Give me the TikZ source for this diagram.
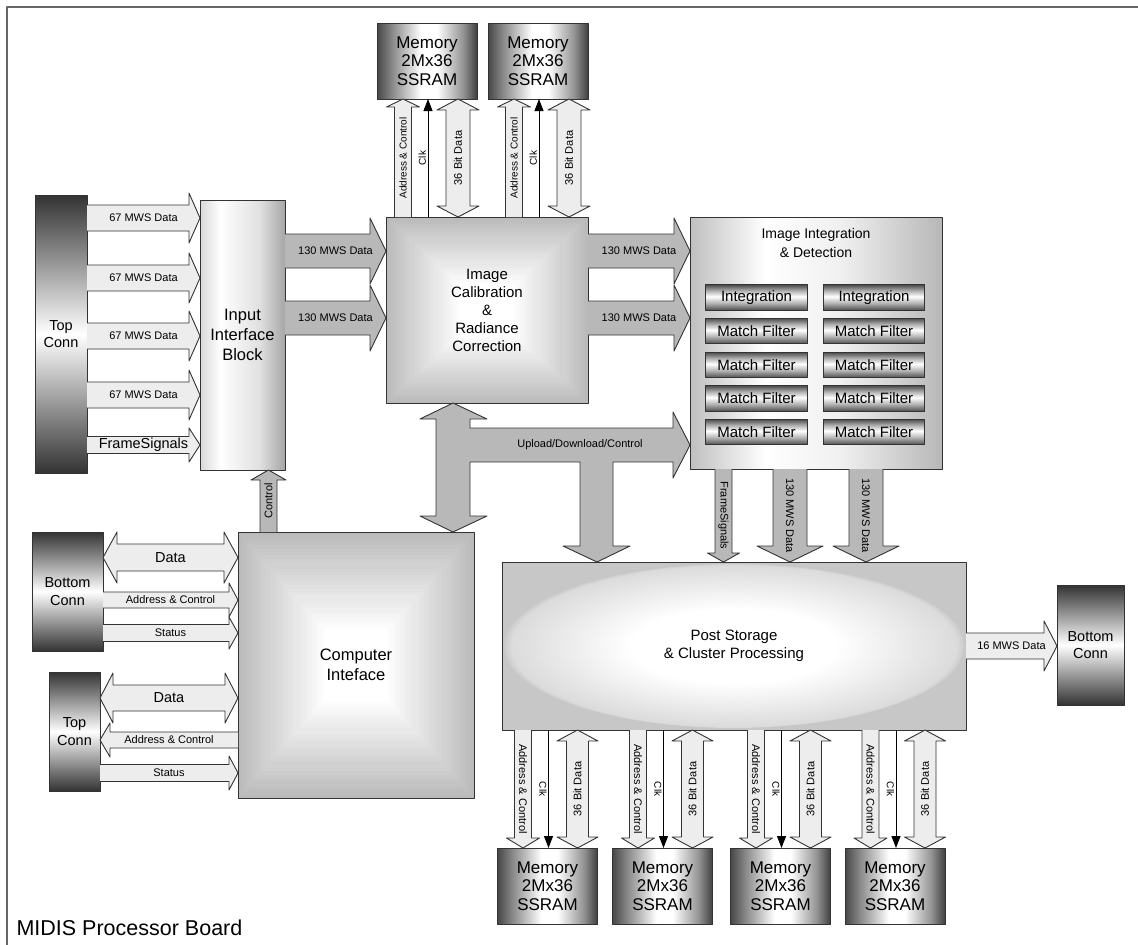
\documentclass[tikz,border=0pt]{standalone}
\usepackage{fontspec}
\setmainfont{Liberation Sans}
\usetikzlibrary{calc,arrows.meta}

\pgfdeclarehorizontalshading{memshade}{100bp}{color(0bp)=(black!72); color(25bp)=(black!72); color(32bp)=(black!48); color(47bp)=(white); color(55bp)=(white); color(68bp)=(black!42); color(75bp)=(black!75); color(100bp)=(black!75)}
\pgfdeclareverticalshading{connshade}{100bp}{color(0bp)=(black!80); color(25bp)=(black!80); color(36bp)=(black!45); color(50bp)=(white); color(64bp)=(black!45); color(75bp)=(black!80); color(100bp)=(black!80)}
\pgfdeclareverticalshading{filtershade}{100bp}{color(0bp)=(black!70); color(25bp)=(black!70); color(39bp)=(black!30); color(52bp)=(white); color(63bp)=(black!30); color(75bp)=(black!70); color(100bp)=(black!70)}
\pgfdeclarehorizontalshading{inshade}{100bp}{color(0bp)=(black!15); color(25bp)=(black!15); color(37bp)=(white); color(60bp)=(black!12); color(75bp)=(black!35); color(100bp)=(black!35)}
\pgfdeclarehorizontalshading{integshade}{100bp}{color(0bp)=(black!25); color(25bp)=(black!25); color(40bp)=(white); color(55bp)=(black!6); color(75bp)=(black!28); color(100bp)=(black!28)}
\pgfdeclareradialshading{postglow}{\pgfpoint{0bp}{0bp}}{color(0bp)=(white); color(11bp)=(white); color(24bp)=(black!14); color(25bp)=(black!22); color(50bp)=(black!22)}

\tikzset{bw/.store in=\bw, hw/.store in=\hw, hl/.store in=\hl, afill/.store in=\afill,
  bw=8, hw=16, hl=10, afill=white}

\newcommand\blockarr[4][]{%
  \begin{scope}[#1]
  \path (#2) coordinate (ba) (#3) coordinate (bb) ($(bb)!\hl pt!(ba)$) coordinate (bc);
  \draw[arrowline, fill=\afill] ($(ba)!\bw pt!90:(bb)$) -- ($(bc)!\bw pt!90:(bb)$) -- ($(bc)!\hw pt!90:(bb)$) -- (bb)
    -- ($(bc)!\hw pt!-90:(bb)$) -- ($(bc)!\bw pt!-90:(bb)$) -- ($(ba)!\bw pt!-90:(bb)$);
  \path (ba) -- (bb) node[midway, sloped, alabel] {#4};
  \end{scope}}

\newcommand\dblockarr[4][]{%
  \begin{scope}[#1]
  \path (#2) coordinate (ba) (#3) coordinate (bb) ($(ba)!\hl pt!(bb)$) coordinate (bc) ($(bb)!\hl pt!(ba)$) coordinate (bd);
  \draw[arrowline, fill=\afill] (ba) -- ($(bc)!\hw pt!90:(bb)$) -- ($(bc)!\bw pt!90:(bb)$) -- ($(bd)!\bw pt!90:(bb)$)
    -- ($(bd)!\hw pt!90:(bb)$) -- (bb) -- ($(bd)!\hw pt!-90:(bb)$) -- ($(bd)!\bw pt!-90:(bb)$)
    -- ($(bc)!\bw pt!-90:(bb)$) -- ($(bc)!\hw pt!-90:(bb)$) -- cycle;
  \path (ba) -- (bb) node[midway, sloped, alabel] {#4};
  \end{scope}}

\begin{document}
\begin{tikzpicture}[x=1pt, y=-1pt, line join=round, >={Triangle[length=12pt,width=9pt]},
  box/.style={draw=black!80, line width=1pt, inner sep=0pt, outer sep=0pt, align=center},
  mem/.style={box, shade, shading=memshade, minimum width=100pt, minimum height=76pt, font=\fontsize{17}{18.5}\selectfont},
  conn/.style={box, shade, shading=connshade, font=\fontsize{14.5}{17.5}\selectfont},
  filter/.style={box, shade, shading=filtershade, minimum width=101.5pt, minimum height=25.5pt, font=\fontsize{15}{17}\selectfont},
  sqglow/.style={path picture={\foreach \i in {0,...,36}{\pgfmathtruncatemacro\shadeval{max(0,27-0.9*\i)}
    \fill[black!\shadeval] ($(path picture bounding box.south west)!\i/80!(path picture bounding box.north east)$) rectangle
      ($(path picture bounding box.north east)!\i/80!(path picture bounding box.south west)$);}}},
  post/.style={box, fill=black!22, path picture={\shade[shading=postglow] (path picture bounding box.center) ellipse [x radius=230pt, y radius=82pt];}},
  alabel/.style={font=\fontsize{11}{13}\selectfont, inner sep=0pt},
  vtext/.style={alabel/.style={font=\fontsize{10}{12}\selectfont, inner sep=0pt}},
  arrowline/.style={draw=black!80, line width=0.9pt},
  bigbus/.style={bw=17, hw=33, hl=16, afill=black!28},
  midbus/.style={bw=13, hw=25, hl=11, afill=black!7},
  smallbus/.style={bw=8.5, hw=16.5, hl=9, afill=black!7},
  clk/.style={midway, sloped, inner sep=1.5pt, font=\fontsize{10}{12}\selectfont}]
\useasboundingbox (0,0) rectangle (1138,945);
\draw[black!60, line width=1.5pt] (7,945) -- (7,7) -- (1138,7);

\node[conn, minimum width=52pt, minimum height=278pt] (topconn) at (61,334) {Top\\Conn};
\node[box, shade, shading=inshade, minimum width=85pt, minimum height=270pt, font=\fontsize{16.5}{20}\selectfont] (inblock) at (242.5,335) {Input\\Interface\\Block};
\node[box, sqglow, minimum width=202pt, minimum height=186pt, font=\fontsize{15}{18}\selectfont] (calib) at (487,310) {Image\\Calibration\\\&\\Radiance\\Correction};
\node[box, shade, shading=integshade, minimum width=252pt, minimum height=252pt] (integ) at (816,343) {};
\node[font=\fontsize{14}{19}\selectfont, align=center] (integtitle) at (816,242.5) {Image Integration\\\& Detection};
\node[mem] (mem1t) at (427,61) {Memory\\2Mx36\\SSRAM};
\node[mem] (mem2t) at (538,61) {Memory\\2Mx36\\SSRAM};
\node[conn, minimum width=71pt, minimum height=119pt] (botconn1) at (67.5,591.5) {Bottom\\Conn};
\node[box, sqglow, minimum width=236pt, minimum height=266pt, font=\fontsize{16.5}{20}\selectfont] (comp) at (356,665) {Computer\\Inteface};
\node[conn, minimum width=51pt, minimum height=119pt] (topconn2) at (74.5,731.5) {Top\\Conn};
\node[post, minimum width=464pt, minimum height=168pt, font=\fontsize{15}{18}\selectfont] (post) at (734,646) {Post Storage\\\& Cluster Processing};
\node[conn, minimum width=67pt, minimum height=120pt] (botconn2) at (1090.5,645) {Bottom\\Conn};
\foreach \x [count=\i] in {547.5,662.5,780.5,895}
  \node[mem] (memb\i) at (\x,886) {Memory\\2Mx36\\SSRAM};
\foreach \y/\t [count=\r] in {297.5/Integration, 331/Match Filter, 365/Match Filter, 398.5/Match Filter, 432/Match Filter} {
  \node[filter] (fl\r) at (756.5,\y) {\t};
  \node[filter] (fr\r) at (874,\y) {\t};
}

\foreach \y in {218,278,336,395}
  {\blockarr[midbus]{topconn.east |- 0,\y}{inblock.west |- 0,\y}{67 MWS Data}}
\blockarr[bw=8.5, hw=17, hl=11, afill=black!7, alabel/.style={font=\fontsize{14.5}{16}\selectfont, inner sep=0pt}]{topconn.east |- 0,445}{inblock.west |- 0,445}{FrameSignals}
\foreach \y in {251,318} {
  \blockarr[bigbus]{inblock.east |- 0,\y}{calib.west |- 0,\y}{130 MWS Data}
  \blockarr[bigbus]{calib.east |- 0,\y}{integ.west |- 0,\y}{130 MWS Data}
}

\foreach \m in {mem1t,mem2t} {
  \path ($(\m.south west)+(26,0)$) coordinate (ma) ($(\m.south west)+(51,0)$) coordinate (mc) ($(\m.south west)+(81,0)$) coordinate (md);
  \blockarr[smallbus, vtext, hl=8]{ma |- calib.north}{ma}{Address \& Control}
  \draw[->, line width=1pt] (mc |- calib.north) -- (mc) node[clk, above] {Clk};
  \dblockarr[bw=12, hw=21, hl=11, afill=black!7]{md |- calib.north}{md}{36 Bit Data}
}

\path (268.5,0) coordinate (ctl);
\blockarr[bw=8.5, hw=17.5, hl=10, afill=black!28]{ctl |- comp.north}{ctl |- inblock.south}{Control}

\dblockarr[bw=13.5, hw=25.5, hl=14, afill=black!7, alabel/.style={font=\fontsize{14.5}{16}\selectfont, inner sep=0pt}]{botconn1.east |- 0,557.5}{comp.west |- 0,557.5}{Data}
\blockarr[bw=8, hw=17, hl=9, afill=black!7]{botconn1.east |- 0,600}{comp.west |- 0,600}{Address \& Control}
\blockarr[bw=8.5, hw=16, hl=9, afill=black!7]{botconn1.east |- 0,633}{comp.west |- 0,633}{Status}
\dblockarr[bw=13, hw=25, hl=13, afill=black!7, alabel/.style={font=\fontsize{14.5}{16}\selectfont, inner sep=0pt}]{topconn2.east |- 0,698}{comp.west |- 0,698}{Data}
\blockarr[bw=8, hw=17, hl=10, afill=black!7]{comp.west |- 0,740}{topconn2.east |- 0,740}{Address \& Control}
\blockarr[bw=8.5, hw=17, hl=9, afill=black!7]{topconn2.east |- 0,773}{comp.west |- 0,773}{Status}

\path (453,445) coordinate (upv) (597,445) coordinate (upd) (723.5,0) coordinate (fsx) (790,0) coordinate (b1x) (866,0) coordinate (b2x);
\draw[arrowline, fill=black!28] (upv |- calib.south) -- (487,419) -- (470,419) -- (470,428) -- (673,428) -- (673,412)
  -- (integ.west |- upv) -- (673,478) -- (673,462) -- (613,462) -- (613,546) -- (630,546) -- (upd |- post.north)
  -- (563,546) -- (580,546) -- (580,462) -- (470,462) -- (470,516) -- (487,516) -- (upv |- comp.north)
  -- (420,516) -- (436,516) -- (436,419) -- (420,419) -- cycle;
\node[font=\fontsize{11}{13}\selectfont] (uplabel) at (580,445) {Upload/Download/Control};

\blockarr[bw=8.5, hw=16, hl=9, afill=black!28]{fsx |- integ.south}{fsx |- post.north}{FrameSignals}
\blockarr[bigbus]{b1x |- integ.south}{b1x |- post.north}{130 MWS Data}
\blockarr[bigbus]{b2x |- integ.south}{b2x |- post.north}{130 MWS Data}

\foreach \i in {1,...,4} {
  \path ($(memb\i.north west)+(25.5,0)$) coordinate (ma) ($(memb\i.north west)+(51,0)$) coordinate (mc) ($(memb\i.north west)+(80,0)$) coordinate (md);
  \blockarr[smallbus, hl=10]{ma |- post.south}{ma}{Address \& Control}
  \draw[->, line width=1pt] (mc |- post.south) -- (mc) node[clk, below] {Clk};
  \dblockarr[bw=11, hw=20.5, hl=11, afill=black!7]{md}{md |- post.south}{36 Bit Data}
}

\blockarr[midbus, hl=13]{post.east |- 0,646}{botconn2.west |- 0,646}{16 MWS Data}

\node[anchor=west, font=\fontsize{21.5}{24}\selectfont] (title) at (13,928) {MIDIS Processor Board};
\end{tikzpicture}
\end{document}
